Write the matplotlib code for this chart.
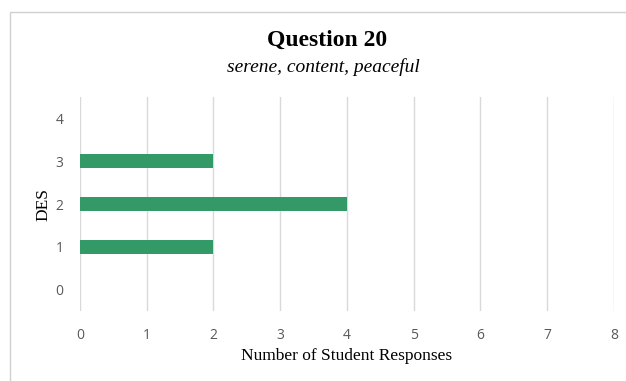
import matplotlib.pyplot as plt
from matplotlib.patches import Rectangle

# data
des_levels = [0, 1, 2, 3, 4]
responses = [0, 2, 4, 2, 0]
x_ticks = [0, 1, 2, 3, 4, 5, 6, 7, 8]

BAR = '#339966'
GRID = '#d9d9d9'
TICK = '#595959'
SERIF = 'Liberation Serif'

fig = plt.figure(figsize=(6.26, 3.81), dpi=100)
ax = fig.add_axes([0.1278, 0.1837, 0.853, 0.5617])

ax.barh(des_levels, responses, height=0.33, color=BAR, zorder=3)

ax.set_xlim(0, 8)
ax.set_ylim(-0.5, 4.5)
ax.set_xticks(x_ticks)
ax.set_yticks(des_levels)
ax.grid(True, axis='x', color=GRID, linewidth=1.0, zorder=0)
for s in ax.spines.values():
    s.set_visible(False)
ax.tick_params(length=0, labelsize=10, labelcolor=TICK, pad=12)
for lbl in ax.get_xticklabels() + ax.get_yticklabels():
    lbl.set_family('Open Sans')

ax.set_xlabel('Number of Student Responses', fontsize=12.5,
              family=SERIF, labelpad=4)
ax.set_ylabel('DES', fontsize=12.5, family=SERIF, labelpad=3)

fig.text(0.522, 0.895, 'Question 20', ha='center', va='center',
         fontsize=17, fontweight='bold', family=SERIF)
fig.text(0.516, 0.824, 'serene, content, peaceful', ha='center', va='center',
         fontsize=14, style='italic', family=SERIF)

# chart frame
fig.patches.append(Rectangle((10 / 626, -0.05), 1.1, 1.0 - 12 / 381 + 0.05,
                             transform=fig.transFigure, fill=False,
                             edgecolor='#d0d0d0', linewidth=1.0))

fig.savefig('out.png', dpi=100, facecolor='white')
